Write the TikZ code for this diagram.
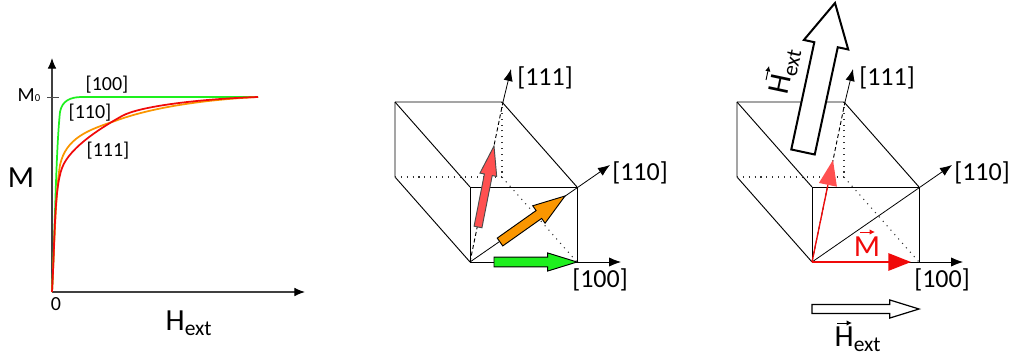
\documentclass[tikz,border=0pt]{standalone}
\usepackage{xcolor}
\usepackage{fontspec}
\setmainfont{Carlito}
\usetikzlibrary{calc, arrows.meta}
\definecolor{curvegreen}{RGB}{30,240,30}
\definecolor{curveorange}{RGB}{250,150,0}
\definecolor{curvered}{RGB}{240,10,10}
\definecolor{softred}{RGB}{255,80,80}
% block arrow: style, tail, tip, half shaft, half head, head length (pt)
\newcommand{\blockarrow}[6]{
  \coordinate (hb) at ($(#3)!#6pt!(#2)$);
  \draw[#1] ($(#2)!#4pt!90:(#3)$) -- ($(hb)!#4pt!90:(#3)$) -- ($(hb)!#5pt!90:(#3)$) -- (#3)
    -- ($(hb)!#5pt!-90:(#3)$) -- ($(hb)!#4pt!-90:(#3)$) -- ($(#2)!#4pt!-90:(#3)$) -- cycle;
}
\begin{document}
\begin{tikzpicture}[
    x=0.75pt, y=-0.75pt,
    axis/.style={thick, black!75, -{Latex[length=8pt, width=6.5pt, color=black]}},
    dir/.style={black, line width=0.6pt, -{Latex[length=9pt, width=7pt]}},
    edge/.style={black, line width=0.7pt},
    hidden/.style={black!80, line width=0.8pt, dash pattern=on 0.8pt off 3.6pt},
    curve/.style={line width=1.3pt},
    solidarrow/.style={draw=black, line width=0.7pt, line join=miter},
    freearrow/.style={draw=black, fill=white, line width=0.9pt, line join=miter},
    vecmark/.style={line width=0.7pt, -{Latex[length=4pt, width=4pt]}},
    biglabel/.style={font=\fontsize{23}{26}\selectfont, inner sep=0pt},
    dirlabel/.style={font=\fontsize{19.5}{22}\selectfont, inner sep=0pt},
    curvelabel/.style={font=\fontsize{15}{18}\selectfont, inner sep=0pt},
]
\useasboundingbox (0,0) rectangle (1012,356);

% Magnetisation plot
\coordinate (orig) at (52,292);
\coordinate (ytop) at (52,58);
\coordinate (xend) at (305,292);
\coordinate (tickl) at (47,97);
\coordinate (tickr) at (59,97);
\draw[axis] (orig) -- (ytop);
\draw[axis] (orig) -- (xend);
\draw[black!70, line width=0.5pt] (tickl) -- (tickr);

\draw[curve, curvegreen] (orig) .. controls (55,230) and (56,150) .. (60,112)
    .. controls (62,101) and (70,97) .. (82,97) -- (258,97);
\draw[curve, curveorange] (orig) .. controls (55,230) and (56,190) .. (60,165)
    .. controls (66,138) and (88,130) .. (115,121)
    .. controls (150,108) and (200,100) .. (258,97);
\draw[curve, curvered] (orig) .. controls (55,240) and (54,190) .. (62,168)
    .. controls (70,146) and (106,125) .. (122,116)
    .. controls (140,106) and (200,99) .. (258,97);

\node[curvelabel] (m0) at (29,95) {M{\footnotesize 0}};
\node[biglabel] (mlabel) at (21,178) {M};
\node[curvelabel] (zero) at (56,304) {0};
\node[biglabel] (hlabel) at (189,323) {H\textsubscript{ext}};
\node[curvelabel] (c100) at (107,85) {[100]};
\node[curvelabel] (c110) at (90,113) {[110]};
\node[curvelabel] (c111) at (108,151) {[111]};

% Cubes
\foreach \p/\dx in {a/0, b/342} {
  \coordinate (\p o) at (470+\dx,262);
  \coordinate (\p r) at (577+\dx,262);
  \coordinate (\p t) at (470+\dx,187);
  \coordinate (\p s) at (577+\dx,187);
  \coordinate (\p bl) at (395+\dx,177);
  \coordinate (\p tl) at (395+\dx,102);
  \coordinate (\p tr) at (502+\dx,102);
  \coordinate (\p br) at (502+\dx,177);
  \coordinate (\p x) at (621+\dx,262);
  \coordinate (\p y) at (610+\dx,165);
  \coordinate (\p z) at (511+\dx,69);
  \coordinate (\p zm) at (503+\dx,102);

  \draw[edge] (\p o) rectangle (\p s);
  \draw[edge] (\p tl) -- (\p tr) -- (\p s);
  \draw[edge] (\p tl) -- (\p t);
  \draw[edge] (\p tl) -- (\p bl) -- (\p o);
  \draw[hidden] (\p bl) -- (\p br) -- (\p tr);
  \draw[hidden] (\p br) -- (\p r);

  \draw[dir] (\p o) -- (\p x);
  \draw[dir] (\p o) -- (\p y);
  \draw[edge, densely dashed] (\p o) -- (\p zm);
  \draw[dir] (\p zm) -- (\p z);

  \node[dirlabel, anchor=west] (\p l111) at (517+\dx,78) {[111]};
  \node[dirlabel, anchor=west] (\p l110) at (612+\dx,173) {[110]};
  \node[dirlabel, anchor=west] (\p l100) at (572+\dx,280) {[100]};
}

% Middle panel, block arrows
\coordinate (gtail) at (494,262);
\coordinate (gtip) at (577,262);
\coordinate (otail) at (500,242);
\coordinate (otip) at (565,196);
\coordinate (rtail) at (478,227);
\coordinate (rtip) at (494,146);
\blockarrow{solidarrow, fill=curvegreen}{gtail}{gtip}{3.6}{6.8}{22}
\blockarrow{solidarrow, fill=curveorange}{otail}{otip}{3.6}{8}{24}
\blockarrow{solidarrow, draw=black!70, fill=softred}{rtail}{rtip}{3}{6.4}{22}

% Right panel, field and magnetisation
\coordinate (htail) at (803,152);
\coordinate (htip) at (835,3);
\coordinate (ftail) at (812,309);
\coordinate (ftip) at (919,309);
\coordinate (mtip) at (911,262);
\coordinate (ntip) at (833,160);
\blockarrow{freearrow, line width=1.5pt}{htail}{htip}{9}{17}{32}
\blockarrow{freearrow}{ftail}{ftip}{3.4}{6.8}{22}
\draw[curvered, line width=1.5pt, -{Triangle[length=17pt, width=13pt]}] (bo) -- (mtip);
\draw[curvered, line width=1pt, -{Triangle[length=19pt, width=13.5pt, fill=softred, color=softred]}] (bo) -- (ntip);

\node[biglabel, text=curvered] (mvec) at (867,247) {M};
\node[biglabel, rotate=78] (hrot) at (785,71) {H\textsubscript{ext}};
\node[biglabel] (hvec) at (858,339) {H\textsubscript{ext}};

% Arrows over the symbols
\coordinate (ma) at (860,232);
\coordinate (mb) at (875,232);
\coordinate (ra) at (766,80);
\coordinate (rb) at (769,66);
\coordinate (va) at (837,323);
\coordinate (vb) at (852,323);
\draw[vecmark, curvered] (ma) -- (mb);
\draw[vecmark] (ra) -- (rb);
\draw[vecmark] (va) -- (vb);
\end{tikzpicture}
\end{document}
